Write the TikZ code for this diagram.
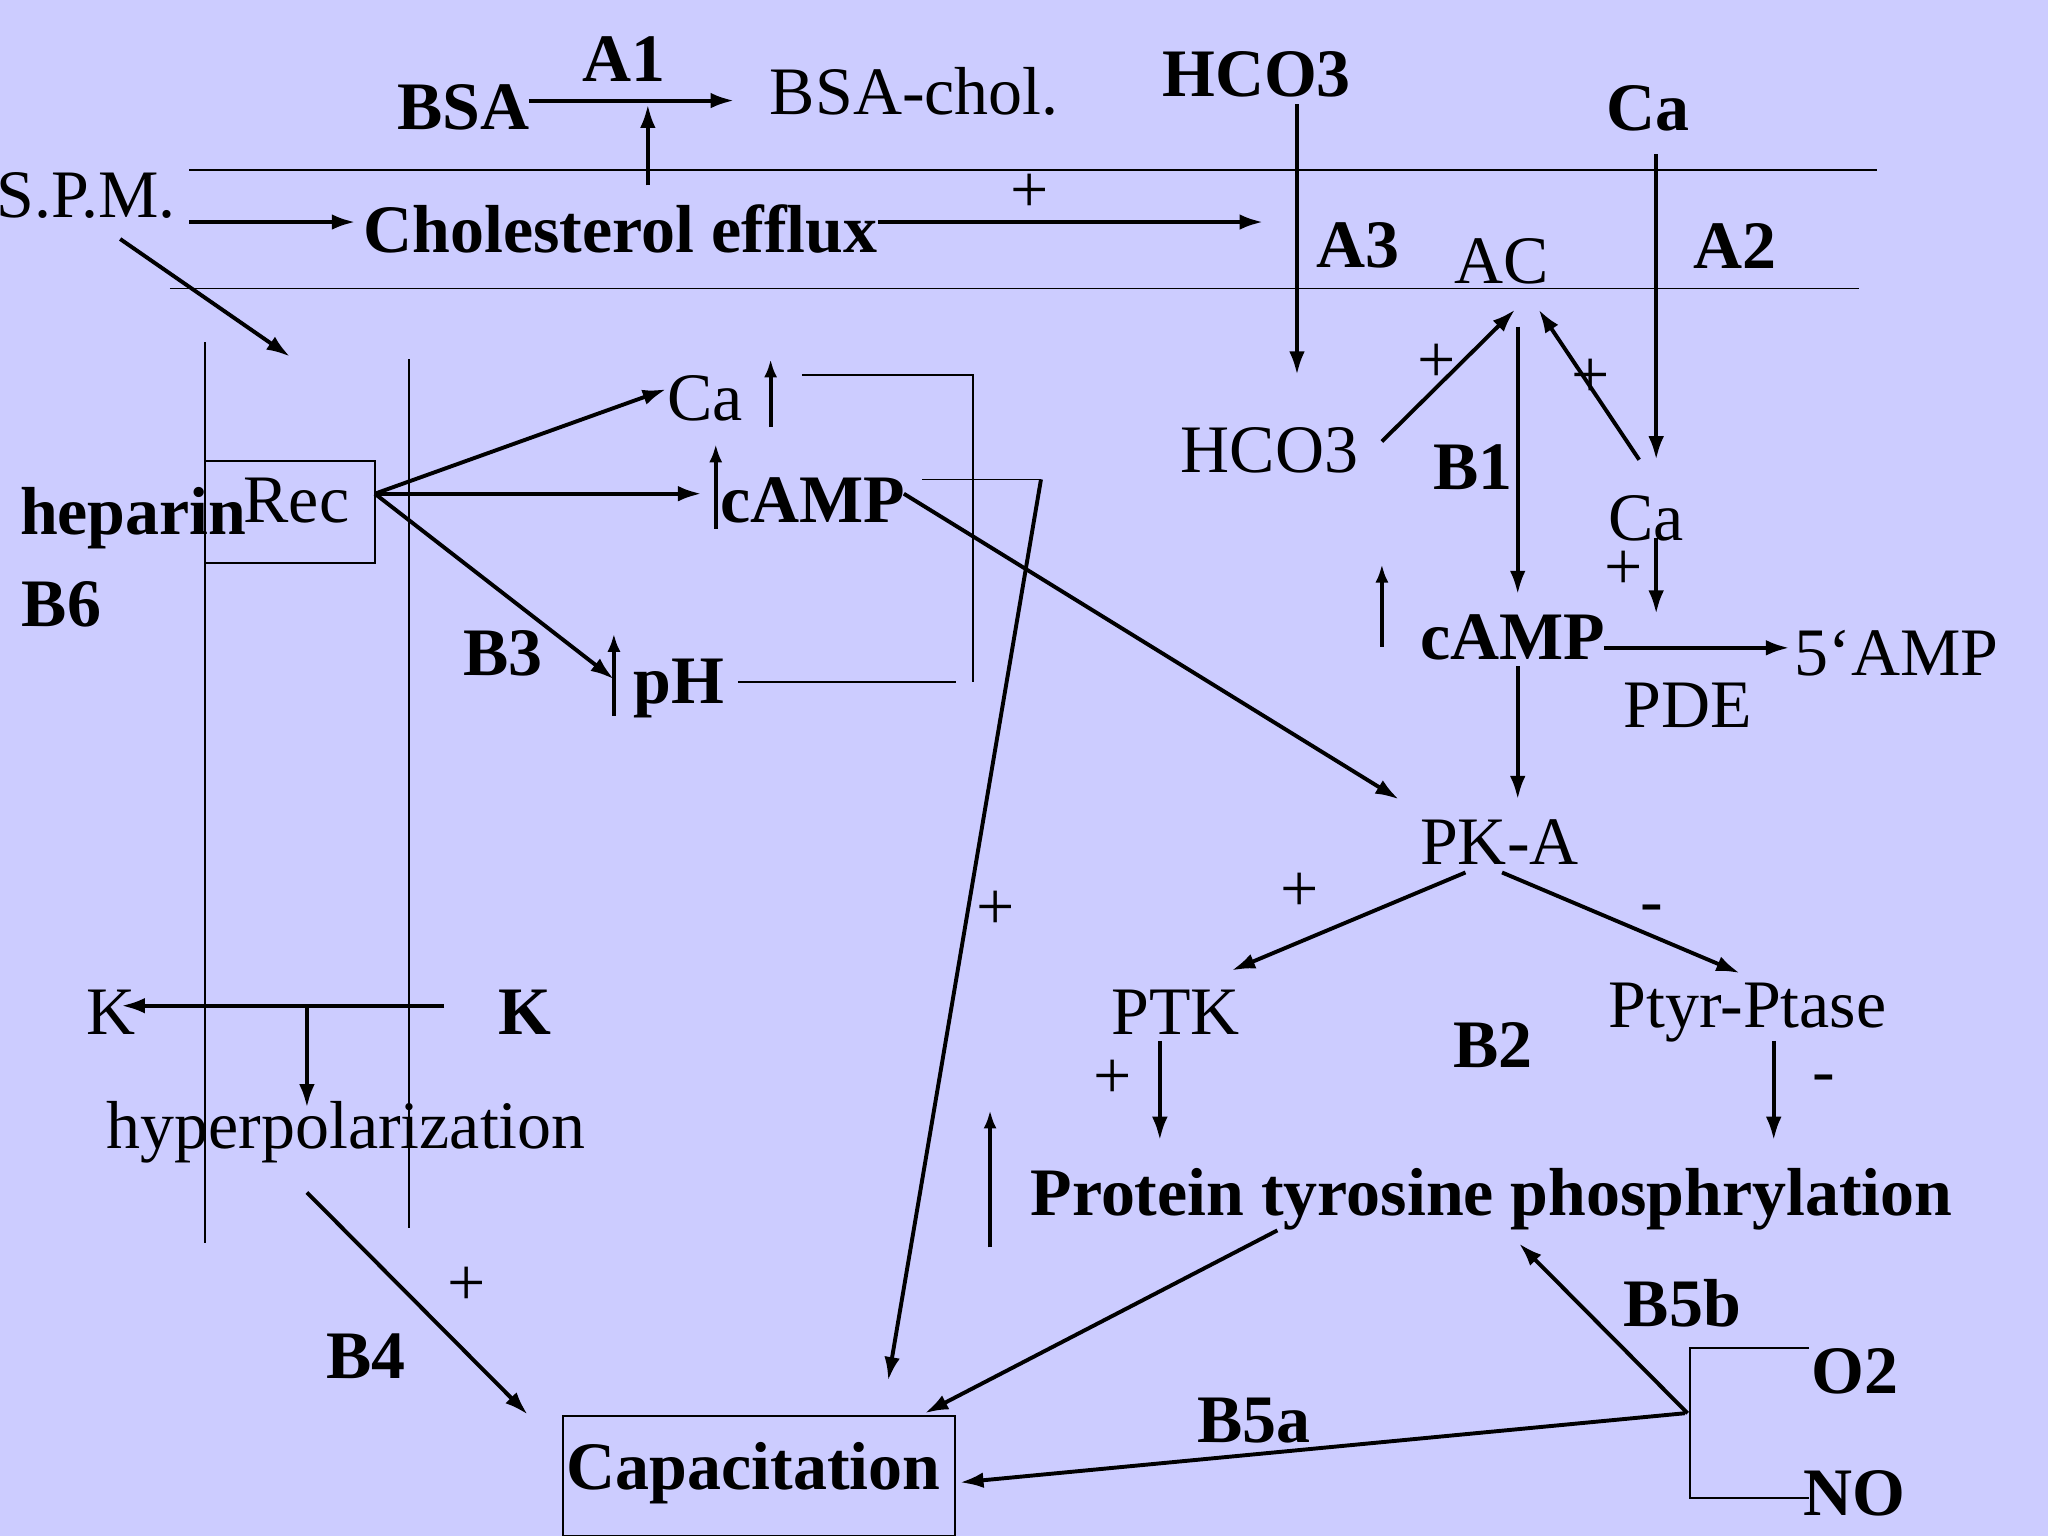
\documentclass[tikz,border=0pt]{standalone}
\usepackage{fontspec}
\setmainfont{Liberation Serif}
\usetikzlibrary{arrows.meta}
\begin{document}
\begin{tikzpicture}[x=0.5pt,y=-0.5pt,
  T/.style={font=\fontsize{26}{28}\selectfont, inner sep=0pt},
  B/.style={font=\fontsize{26}{28}\selectfont\bfseries, inner sep=0pt},
  ar/.style={line width=1.5pt,-{Latex[length=9pt,width=6pt]}},
  ln/.style={line width=0.6pt}]
\fill[fill={rgb,255:red,204;green,204;blue,255}] (0,0) rectangle (1568,1176);
\useasboundingbox (0,0) rectangle (1568,1176);
% membranes
\draw[ln] (145,130) coordinate(m1a) -- (1437,130) coordinate(m1b);
\draw[ln] (130,221) coordinate(m2a) -- (1423,221) coordinate(m2b);
\draw[ln] (157,262) coordinate(v1a) -- (157,952) coordinate(v1b);
\draw[ln] (313,275) coordinate(v2a) -- (313,940) coordinate(v2b);
% top
\node[B] (bsa) at (355,82) {BSA};
\node[B] (a1) at (478,45) {A1};
\node[T] (bsac) at (700,70) {BSA-chol.};
\draw[ar] (405,77) coordinate(p1) -- (562,77) coordinate(p2);
\draw[ar] (496,142) coordinate(p3) -- (496,80) coordinate(p4);
\node[T,anchor=east] (spm) at (135,150) {S.P.M.};
\node[B] (chol) at (475,175) {Cholesterol efflux};
\draw[ar] (145,170) coordinate(p5) -- (272,170) coordinate(p6);
\draw[ar] (672,170) coordinate(p7) -- (967,170) coordinate(p8);
\node[T] (pl1) at (788,148) {+};
\node[B] (hco3b) at (962,57) {HCO3};
\draw[ar] (993,80) coordinate(p9) -- (993,287) coordinate(p10);
\node[B] (a3) at (1040,188) {A3};
\node[T] (ac) at (1150,200) {AC};
\node[B] (cab) at (1262,83) {Ca};
\draw[ar] (1268,118) coordinate(p11) -- (1268,352) coordinate(p12);
\node[B] (a2) at (1328,188) {A2};
\node[T] (hco3) at (972,345) {HCO3};
\draw[ar] (1058,338) coordinate(q1) -- (1160,237) coordinate(q2);
\node[T] (pl2) at (1100,278) {+};
\draw[ar] (1255,352) coordinate(q3) -- (1178,237) coordinate(q4);
\node[T] (pl3) at (1218,290) {+};
\draw[ar] (1162,250) coordinate(q5) -- (1162,455) coordinate(q6);
\node[B] (b1) at (1128,358) {B1};
\node[T] (ca2) at (1260,397) {Ca};
\node[T] (pl4) at (1243,437) {+};
\draw[ar] (1268,412) coordinate(q7) -- (1268,470) coordinate(q8);
\draw[line width=1.5pt,-{Latex[length=7pt,width=5pt]}] (1058,495) coordinate(q9) -- (1058,432) coordinate(q10);
\node[B] (camp2) at (1158,488) {cAMP};
\draw[ar] (1228,496) coordinate(q11) -- (1370,496) coordinate(q12);
\node[T] (amp) at (1452,500) {5{\char96}AMP};
\node[T] (pde) at (1292,540) {PDE};
\draw[ar] (1162,510) coordinate(q13) -- (1162,612) coordinate(q14);
\node[T] (pka) at (1148,645) {PK-A};
\draw[ar] (1122,668) coordinate(r1) -- (943,743) coordinate(r2);
\node[T] (pl5) at (995,683) {+};
\draw[ar] (1150,668) coordinate(r3) -- (1332,745) coordinate(r4);
\node[T] (mi1) at (1265,700) {-};
\node[T] (ptk) at (900,775) {PTK};
\node[T] (ptp) at (1338,775) {Ptyr-Ptase};
\node[B] (b2) at (1143,800) {B2};
\node[T] (pl6) at (852,826) {+};
\draw[ar] (888,797) coordinate(r5) -- (888,873) coordinate(r6);
\draw[ar] (1358,797) coordinate(r7) -- (1358,873) coordinate(r8);
\node[T] (mi2) at (1396,830) {-};
\draw[line width=1.5pt,-{Latex[length=7pt,width=5pt]}] (758,955) coordinate(r9) -- (758,850) coordinate(r10);
\node[B] (ptp2) at (1142,918) {Protein tyrosine phosphrylation};
% capacitation
\node[draw,line width=0.6pt,minimum width=150pt,minimum height=46pt] (cap) at (581,1130) {};
\node[B] (capt) at (577,1128) {Capacitation};
\draw[ar] (978,942) coordinate(s1) -- (708,1082) coordinate(s2);
\draw[ar] (1292,1082) coordinate(s3) -- (1163,952) coordinate(s4);
\node[B] (b5b) at (1288,998) {B5b};
\draw[ln] (1385,1032) coordinate(s5) -- (1294,1032) -- (1294,1147) -- (1385,1147) coordinate(s6);
\node[B] (o2) at (1420,1050) {O2};
\node[B] (no) at (1420,1143) {NO};
\draw[ar] (1290,1082) coordinate(s7) -- (735,1135) coordinate(s8);
\node[B] (b5a) at (960,1088) {B5a};
% left
\node[draw,line width=0.6pt,minimum width=65pt,minimum height=39pt] (rec) at (222,392) {};
\node[T] (rect) at (227,383) {Rec};
\node[B] (hep) at (102,397) {heparin};
\node[B] (b6) at (47,463) {B6};
\draw[ar] (92,183) coordinate(t1) -- (222,273) coordinate(t2);
\draw[ar] (287,378) coordinate(t3) -- (510,298) coordinate(t4);
\draw[ar] (287,378) -- (537,378) coordinate(t5);
\draw[ar] (287,378) -- (470,520) coordinate(t6);
\node[T] (ca1) at (540,305) {Ca};
\draw[line width=1.5pt,-{Latex[length=7pt,width=5pt]}] (590,327) coordinate(u1) -- (590,275) coordinate(u2);
\node[B] (camp1) at (622,383) {cAMP};
\draw[line width=1.5pt,-{Latex[length=7pt,width=5pt]}] (548,405) coordinate(u3) -- (548,340) coordinate(u4);
\node[B] (ph) at (520,527) {pH};
\draw[line width=1.5pt,-{Latex[length=7pt,width=5pt]}] (470,548) coordinate(u5) -- (470,485) coordinate(u6);
\node[B] (b3) at (385,500) {B3};
\draw[ln] (614,287) coordinate(w1) -- (745,287) -- (745,522) coordinate(w2);
\draw[ln] (565,522) coordinate(w3) -- (732,522) coordinate(w4);
\draw[ln] (706,367) coordinate(w5) -- (797,367) coordinate(w6);
\draw[ar] (w6) -- (680,1057) coordinate(w7);
\node[T] (pl7) at (762,697) {+};
\draw[ar] (692,378) coordinate(w8) -- (1071,612) coordinate(w9);
\node[T] (k1) at (85,775) {K};
\node[B] (k2) at (402,775) {K};
\draw[ar] (340,770) coordinate(x1) -- (93,770) coordinate(x2);
\draw[ar] (235,772) coordinate(x3) -- (235,848) coordinate(x4);
\node[T] (hyp) at (265,867) {hyperpolarization};
\draw[ar] (235,913) coordinate(x5) -- (404,1083) coordinate(x6);
\node[T] (pl8) at (357,985) {+};
\node[B] (b4) at (280,1038) {B4};
\end{tikzpicture}
\end{document}
